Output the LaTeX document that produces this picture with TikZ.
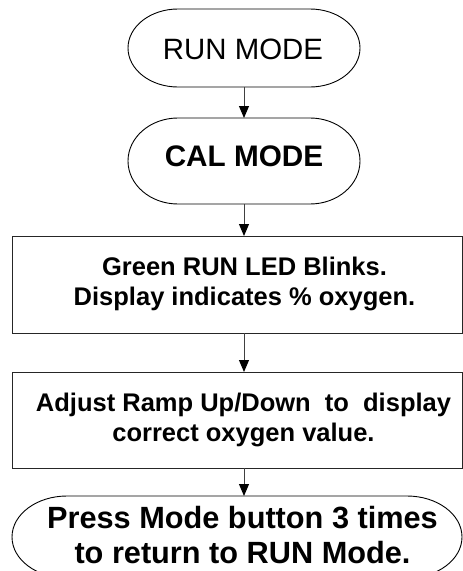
\documentclass[tikz,border=0pt]{standalone}
\usepackage{fontspec}
\setmainfont{Liberation Sans}
\usetikzlibrary{arrows.meta}
\newcommand\termoutline[3]{%
  \draw[termline] ([xshift=#2]#1.north west) -- ([xshift=-#2]#1.north east)
    arc[start angle=90,end angle=-90,x radius=#2,y radius=#3]
    -- ([xshift=#2]#1.south west)
    arc[start angle=270,end angle=90,x radius=#2,y radius=#3] -- cycle;}
\begin{document}
\begin{tikzpicture}[x=1pt,y=1pt,
  termline/.style={draw=black,line width=0.9pt},
  shapebox/.style={rectangle,inner sep=0pt,outer sep=0pt,draw=none},
  stepbox/.style={rectangle,inner sep=0pt,outer sep=0pt,draw=black!85,line width=1pt},
  bigreg/.style={font=\fontsize{29.4}{34}\selectfont,inner sep=0pt},
  bigbold/.style={font=\fontsize{29.7}{34}\selectfont\bfseries,inner sep=0pt},
  boxtext/.style={font=\fontsize{25.5}{29.5}\selectfont\bfseries,align=center,inner sep=0pt},
  endtext/.style={font=\fontsize{30.7}{35.3}\selectfont\bfseries,align=center,inner sep=0pt},
  conn/.style={draw=black!75,line width=1pt,-{Triangle[width=10pt,length=12pt,color=black]}}
]
\useasboundingbox (0,0) rectangle (463,-571);
\clip (0,0) rectangle (463,-571);

% terminator RUN MODE
\node[shapebox,minimum width=232pt,minimum height=78pt] (run) at (244,-48) {};
\termoutline{run}{50pt}{39pt}
\node[bigreg] (runt) at (243,-49) {RUN MODE};

% terminator CAL MODE
\node[shapebox,minimum width=232pt,minimum height=86pt] (cal) at (244,-161) {};
\termoutline{cal}{50pt}{43pt}
\node[bigbold] (calt) at (244,-156) {CAL MODE};

% process box 1
\node[stepbox,minimum width=450pt,minimum height=97pt] (box1) at (237,-284.5) {};
\node[boxtext] (box1t) at (244.5,-284) {Green RUN LED Blinks.\\Display indicates \% oxygen.};

% process box 2
\node[stepbox,minimum width=450pt,minimum height=96pt] (box2) at (237,-420) {};
\node[boxtext] (box2t) at (243.5,-420) {Adjust Ramp Up/Down\ \ to\ \ display\\correct oxygen value.};

% final terminator
\node[shapebox,minimum width=450pt,minimum height=82pt] (fin) at (237,-537) {};
\termoutline{fin}{55pt}{41pt}
\node[endtext] (fint) at (242.5,-535) {Press Mode button 3 times\\to return to RUN Mode.};

% connectors
\draw[conn] (run.south) -- (cal.north);
\draw[conn] (cal.south) -- (cal.south |- box1.north);
\draw[conn] (cal.south |- box1.south) -- (cal.south |- box2.north);
\draw[conn] (cal.south |- box2.south) -- (cal.south |- fin.north);
\end{tikzpicture}
\end{document}
